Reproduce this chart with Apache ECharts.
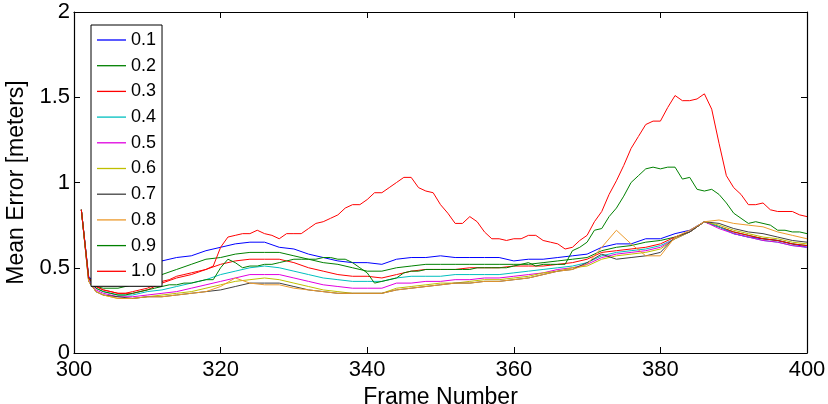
<!DOCTYPE html>
<html>
<head>
<meta charset="utf-8">
<script src="https://cdn.jsdelivr.net/npm/echarts@6/dist/echarts.min.js"></script>
<style>html,body{margin:0;padding:0;background:#fff}#c{width:828px;height:404px}</style>
</head>
<body>
<div id="c"></div>
<script>
// ---- DATA ----
const seriesNames = ['0.1','0.2','0.3','0.4','0.5','0.6','0.7','0.8','0.9','1.0'];
const xTicks = [300,320,340,360,380,400];
const yTicks = [0,0.5,1,1.5,2];

const framesFine = [301,302,303,304,305,306,307,308,309,310,311,312,313,314,315,316,317,318,319,320,
321,322,323,324,325,326,327,328,329,330,331,332,333,334,335,336,337,338,339,340,
341,342,343,344,345,346,347,348,349,350,351,352,353,354,355,356,357,358,359,360,
361,362,363,364,365,366,367,368,369,370,371,372,373,374,375,376,377,378,379,380,
381,382,383,384,385,386,387,388,389,390,391,392,393,394,395,396,397,398,399,400];

const framesCoarse = [301,302,303,304,306,308,310,312,314,316,318,320,322,324,326,328,330,332,334,336,
338,340,342,344,346,348,350,352,354,356,358,360,362,364,366,368,370,372,374,376,
378,380,382,384,386,388,390,392,394,396,398,400];

// coarse series (framesCoarse)
const s01 = [0.84,0.45,0.40,0.42,0.46,0.49,0.53,0.54,0.56,0.57,0.60,0.62,0.64,0.65,0.65,0.62,0.61,0.58,0.56,0.54,
0.53,0.53,0.52,0.55,0.56,0.56,0.57,0.56,0.56,0.56,0.56,0.54,0.55,0.55,0.56,0.57,0.58,0.62,0.64,0.64,
0.67,0.67,0.70,0.72,0.77,0.74,0.70,0.68,0.67,0.66,0.64,0.62];
const s02 = [0.84,0.44,0.39,0.38,0.38,0.40,0.43,0.46,0.49,0.52,0.55,0.56,0.58,0.59,0.59,0.59,0.57,0.55,0.53,0.52,
0.50,0.48,0.48,0.50,0.51,0.52,0.52,0.52,0.52,0.52,0.52,0.52,0.52,0.53,0.54,0.55,0.56,0.60,0.62,0.63,
0.65,0.66,0.68,0.71,0.77,0.74,0.71,0.69,0.67,0.66,0.64,0.63];
const s03 = [0.84,0.44,0.39,0.37,0.35,0.35,0.37,0.41,0.44,0.46,0.49,0.52,0.54,0.55,0.55,0.55,0.53,0.50,0.48,0.46,
0.45,0.45,0.44,0.46,0.48,0.49,0.49,0.49,0.50,0.50,0.50,0.51,0.51,0.51,0.52,0.53,0.55,0.59,0.60,0.61,
0.62,0.64,0.68,0.71,0.77,0.74,0.71,0.69,0.67,0.66,0.64,0.63];
const s04 = [0.84,0.43,0.38,0.36,0.34,0.34,0.36,0.37,0.39,0.41,0.43,0.46,0.48,0.50,0.51,0.50,0.48,0.46,0.44,0.43,
0.42,0.42,0.42,0.44,0.45,0.45,0.45,0.46,0.46,0.46,0.46,0.47,0.48,0.49,0.50,0.51,0.53,0.57,0.59,0.60,
0.61,0.63,0.67,0.71,0.77,0.74,0.70,0.68,0.66,0.65,0.63,0.62];
const s05 = [0.84,0.43,0.37,0.35,0.33,0.33,0.34,0.35,0.36,0.38,0.40,0.42,0.44,0.46,0.46,0.46,0.44,0.42,0.40,0.39,
0.38,0.38,0.38,0.41,0.41,0.42,0.42,0.43,0.43,0.44,0.44,0.45,0.46,0.47,0.49,0.50,0.52,0.56,0.58,0.59,
0.60,0.62,0.67,0.71,0.77,0.73,0.70,0.68,0.66,0.65,0.63,0.62];
const s06 = [0.84,0.42,0.36,0.34,0.32,0.32,0.33,0.34,0.35,0.36,0.38,0.40,0.42,0.43,0.44,0.43,0.41,0.39,0.37,0.36,
0.35,0.35,0.35,0.38,0.39,0.40,0.41,0.41,0.42,0.43,0.43,0.44,0.45,0.47,0.48,0.50,0.51,0.55,0.57,0.58,
0.59,0.61,0.67,0.71,0.77,0.75,0.72,0.70,0.68,0.67,0.65,0.64];
const s07 = [0.84,0.42,0.36,0.34,0.33,0.32,0.33,0.33,0.34,0.35,0.36,0.37,0.39,0.41,0.41,0.41,0.39,0.37,0.36,0.35,
0.35,0.35,0.35,0.37,0.38,0.39,0.40,0.41,0.41,0.42,0.42,0.43,0.44,0.46,0.48,0.49,0.53,0.58,0.55,0.56,
0.57,0.59,0.68,0.71,0.77,0.76,0.73,0.71,0.70,0.68,0.66,0.65];
const s08 = [0.84,0.42,0.36,0.34,0.32,0.32,0.33,0.33,0.34,0.35,0.36,0.39,0.44,0.41,0.40,0.40,0.38,0.37,0.36,0.35,
0.35,0.35,0.35,0.37,0.38,0.39,0.40,0.41,0.41,0.42,0.42,0.43,0.44,0.46,0.48,0.49,0.52,0.62,0.72,0.64,
0.57,0.57,0.68,0.72,0.77,0.78,0.76,0.75,0.74,0.71,0.69,0.67];

// fine series (framesFine)
const s09 = [0.84,0.44,0.38,0.36,0.35,0.34,0.34,0.35,0.36,0.37,0.38,0.39,0.40,0.40,0.41,0.41,0.42,0.43,0.43,0.50,
0.55,0.53,0.50,0.51,0.51,0.52,0.52,0.53,0.54,0.55,0.55,0.55,0.55,0.56,0.56,0.55,0.55,0.53,0.50,0.47,
0.41,0.42,0.43,0.44,0.47,0.48,0.48,0.49,0.49,0.49,0.49,0.49,0.49,0.49,0.50,0.50,0.50,0.50,0.50,0.51,
0.52,0.53,0.51,0.52,0.52,0.52,0.52,0.60,0.62,0.65,0.72,0.73,0.80,0.85,0.92,1.00,1.04,1.08,1.09,1.08,
1.09,1.09,1.02,1.03,0.96,0.95,0.96,0.93,0.88,0.82,0.79,0.76,0.77,0.76,0.75,0.72,0.72,0.71,0.71,0.70];
const s10 = [0.84,0.44,0.39,0.37,0.36,0.35,0.35,0.36,0.37,0.38,0.40,0.42,0.43,0.45,0.46,0.47,0.48,0.49,0.51,0.62,
0.68,0.69,0.70,0.70,0.72,0.70,0.69,0.67,0.70,0.70,0.70,0.73,0.76,0.77,0.79,0.81,0.85,0.87,0.87,0.90,
0.94,0.94,0.97,1.00,1.03,1.03,0.97,0.95,0.94,0.87,0.82,0.76,0.76,0.80,0.77,0.71,0.67,0.67,0.66,0.67,
0.67,0.69,0.69,0.66,0.65,0.64,0.61,0.62,0.66,0.69,0.77,0.83,0.93,1.01,1.10,1.20,1.27,1.34,1.36,1.36,
1.44,1.51,1.48,1.48,1.49,1.52,1.43,1.23,1.04,0.97,0.93,0.87,0.87,0.88,0.84,0.83,0.83,0.83,0.81,0.80];

const seriesValues = [s01,s02,s03,s04,s05,s06,s07,s08,s09,s10];
const seriesFrames = [framesCoarse,framesCoarse,framesCoarse,framesCoarse,framesCoarse,framesCoarse,framesCoarse,framesCoarse,framesFine,framesFine];
const colors = ['#0000ff','#008000','#ff0000','#00bfbf','#e000e0','#bfbf00','#404040','#ec9a2c','#008000','#ff0000'];

// ---- CHART ----
const chart = echarts.init(document.getElementById('c'), null, {renderer:'canvas'});
const font = 'Liberation Sans, Arial, Helvetica, sans-serif';
const series = seriesNames.map((n,i)=>({
  name:n, type:'line', xAxisIndex:0, yAxisIndex:0,
  data: seriesFrames[i].map((f,j)=>[f, seriesValues[i][j]]),
  symbol:'none', showSymbol:false,
  lineStyle:{width:1, color:colors[i]}, itemStyle:{color:colors[i]},
  emphasis:{disabled:true}, animation:false
}));
const tickCommon = {show:true, inside:true, length:6, lineStyle:{color:'#000', width:1}};
chart.setOption({
  animation:false,
  grid:{left:74, top:12, right:21, bottom:51, containLabel:false, outerBoundsMode:'none'},
  xAxis:[{
    type:'value', min:xTicks[0], max:xTicks[xTicks.length-1], interval:20,
    name:'Frame Number', nameLocation:'middle', nameGap:23,
    nameTextStyle:{fontFamily:font, fontSize:23, color:'#000'},
    axisLine:{show:true, onZero:false, lineStyle:{color:'#000', width:1.2}},
    axisTick:tickCommon,
    axisLabel:{fontFamily:font, fontSize:22, color:'#000', margin:6},
    splitLine:{show:false}
  },{
    type:'value', position:'top', min:xTicks[0], max:xTicks[xTicks.length-1], interval:20,
    axisLine:{show:true, onZero:false, lineStyle:{color:'#000', width:1.2}},
    axisTick:tickCommon, axisLabel:{show:false}, splitLine:{show:false}
  }],
  yAxis:[{
    type:'value', min:yTicks[0], max:yTicks[yTicks.length-1], interval:0.5,
    name:'Mean Error [meters]', nameLocation:'middle', nameGap:37,
    nameTextStyle:{fontFamily:font, fontSize:23, color:'#000'},
    axisLine:{show:true, onZero:false, lineStyle:{color:'#000', width:1.2}},
    axisTick:tickCommon,
    axisLabel:{fontFamily:font, fontSize:22, color:'#000', margin:4},
    splitLine:{show:false}
  },{
    type:'value', position:'right', min:yTicks[0], max:yTicks[yTicks.length-1], interval:0.5,
    axisLine:{show:true, onZero:false, lineStyle:{color:'#000', width:1.2}},
    axisTick:tickCommon, axisLabel:{show:false}, splitLine:{show:false}
  }],
  legend:{
    orient:'vertical', left:91, top:25,
    backgroundColor:'#fff', borderColor:'#000', borderWidth:1, borderRadius:0,
    padding:[5,6,5,6], itemGap:5.7, itemWidth:29, itemHeight:1.3, icon:'rect',
    textStyle:{fontFamily:font, fontSize:18, color:'#000', lineHeight:20},
    data:seriesNames, selectedMode:false
  },
  series: series
});
</script>
</body>
</html>
